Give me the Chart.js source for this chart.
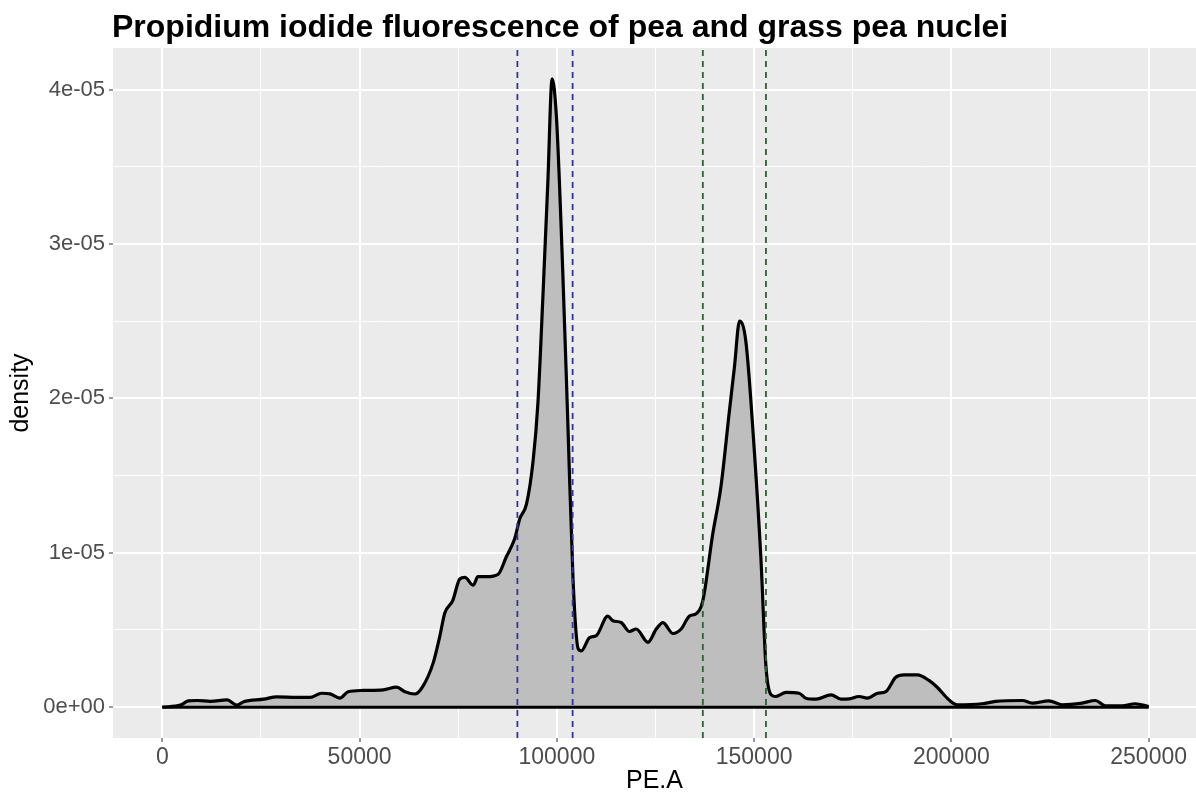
<!DOCTYPE html>
<html>
<head>
<meta charset="utf-8">
<title>Propidium iodide fluorescence of pea and grass pea nuclei</title>
<script src="https://cdn.jsdelivr.net/npm/chart.js@4/dist/chart.umd.min.js"></script>
<style>
  html, body { margin: 0; padding: 0; background: #fff; overflow: hidden; }
  canvas { display: block; }
</style>
</head>
<body>
<canvas id="density-chart" width="1196" height="798"></canvas>
<script>
// ============================================================
// DATA
// density values are in units of 1e-6
// ============================================================
const peaX = [
  0, 4600, 6600, 8800, 12200, 16400, 18900, 20600, 25700, 29000,
  34100, 37400, 40400, 42500, 45000, 47100, 50900, 56000, 59400, 61500,
  64000, 66000, 68700, 70300, 71600, 73600, 75400, 76700, 78800, 80000,
  82200, 85100, 87200, 89300, 90600, 92300, 94000, 95200, 96500, 97700,
  98800, 99900, 101500, 102800, 104100, 105400, 106200, 108300, 110000, 112900,
  114200, 116300, 118400, 120100, 123100, 125200, 126900, 129400, 131500, 133600,
  135300, 137000, 139500, 141600, 143700, 145000, 146300, 147900, 150000, 151700,
  153000, 154300, 155500, 158100, 161400, 163100, 165700, 169500, 172000, 174100,
  176600, 178700, 181300, 183400, 185900, 188000, 191400, 194300, 196400, 199400,
  201500, 207800, 211200, 218000, 220500, 224700, 228100, 233100, 236500, 239000,
  243300, 246600, 250000
];
const peaDensity = [
  0, 0.13, 0.40, 0.43, 0.37, 0.47, 0.13, 0.35, 0.52, 0.67,
  0.63, 0.63, 0.90, 0.86, 0.58, 1.00, 1.08, 1.12, 1.29, 1.00,
  0.85, 1.33, 2.90, 4.55, 6.10, 6.90, 8.30, 8.40, 7.90, 8.45,
  8.45, 8.60, 9.74, 10.9, 12.2, 13.15, 16.0, 19.7, 26.8, 33.9,
  40.7, 38.2, 28.2, 18.3, 8.3, 3.78, 3.64, 4.50, 4.63, 5.90,
  5.60, 5.48, 4.90, 5.06, 4.20, 5.06, 5.48, 4.77, 5.06, 5.90,
  6.05, 6.90, 11.2, 14.3, 19.1, 22.0, 25.0, 23.7, 16.8, 9.74,
  2.64, 0.80, 0.69, 0.95, 0.90, 0.58, 0.52, 0.80, 0.52, 0.54,
  0.69, 0.58, 0.90, 1.01, 1.94, 2.09, 2.09, 1.73, 1.29, 0.47,
  0.15, 0.22, 0.37, 0.43, 0.26, 0.41, 0.15, 0.26, 0.43, 0.09,
  0.09, 0.22, 0.04
];

// dashed reference lines (PE.A positions)
const blueLines = [90000, 104000];
const greenLines = [137000, 153000];

// grid breaks (major + minor) and tick labels
const xBreaks = [0, 25000, 50000, 75000, 100000, 125000, 150000, 175000, 200000, 225000, 250000];
const xTickLabels = ['0', '50000', '100000', '150000', '200000', '250000'];
const yBreaks = [0, 5, 10, 15, 20, 25, 30, 35, 40];
const yTickLabels = ['0e+00', '1e-05', '2e-05', '3e-05', '4e-05'];

// axis limits (ggplot-style 5% expansion)
const X_MIN = -12500;
const X_MAX = 262000;
const Y_MIN = -2.0;
const Y_MAX = 42.7;

const FONT = "'Liberation Sans', Arial, sans-serif";

// ============================================================
// Plugins
// ============================================================
const panelBackground = {
  id: 'panelBackground',
  beforeDraw(chart) {
    const { ctx, chartArea: a } = chart;
    ctx.save();
    ctx.fillStyle = '#EBEBEB';
    ctx.fillRect(a.left, a.top, a.right - a.left, a.bottom - a.top);
    ctx.restore();
  }
};

const plotTitle = {
  id: 'plotTitle',
  afterDraw(chart) {
    const { ctx, chartArea: a } = chart;
    ctx.save();
    ctx.fillStyle = '#000';
    ctx.font = 'bold 32px ' + FONT;
    ctx.textAlign = 'left';
    ctx.textBaseline = 'alphabetic';
    ctx.fillText('Propidium iodide fluorescence of pea and grass pea nuclei', a.left - 1, 37);
    ctx.restore();
  }
};

// ============================================================
// Datasets
// ============================================================
function vline(x, color) {
  return {
    data: [{ x: x, y: Y_MIN }, { x: x, y: Y_MAX }],
    borderColor: color,
    borderWidth: 1.8,
    borderDash: [6, 5],
    pointRadius: 0,
    fill: false,
    order: 0,
  };
}

const datasets = [];
blueLines.forEach(x => datasets.push(vline(x, '#33339f')));
greenLines.forEach(x => datasets.push(vline(x, '#2b6331')));

// bottom edge of the density polygon
datasets.push({
  data: [{ x: peaX[0], y: 0 }, { x: peaX[peaX.length - 1], y: 0 }],
  borderColor: '#000',
  borderWidth: 3,
  pointRadius: 0,
  fill: false,
  order: 1,
});

datasets.push({
  label: 'density',
  data: peaX.map((x, i) => ({ x: x, y: peaDensity[i] })),
  borderColor: '#000',
  backgroundColor: '#BEBEBE',
  borderWidth: 3.2,
  pointRadius: 0,
  cubicInterpolationMode: 'monotone',
  fill: 'origin',
  order: 2,
});

// ============================================================
// Chart
// ============================================================
const isMajorX = v => v % 50000 === 0;
const isMajorY = v => v % 10 === 0;

new Chart(document.getElementById('density-chart').getContext('2d'), {
  type: 'line',
  data: { datasets },
  options: {
    responsive: false,
    animation: false,
    devicePixelRatio: 1,
    layout: { padding: { top: 48, left: 0, right: 0, bottom: 0 } },
    plugins: {
      legend: { display: false },
      tooltip: { enabled: false },
    },
    scales: {
      x: {
        type: 'linear',
        min: X_MIN,
        max: X_MAX,
        afterBuildTicks: scale => { scale.ticks = xBreaks.map(v => ({ value: v })); },
        afterFit: scale => { scale.height = 60; },
        border: { display: false },
        grid: {
          color: '#FFFFFF',
          lineWidth: ctx => isMajorX(ctx.tick.value) ? 2 : 1,
          tickColor: ctx => isMajorX(ctx.tick.value) ? '#333333' : 'rgba(0,0,0,0)',
          tickWidth: 1,
          tickLength: 4,
        },
        ticks: {
          autoSkip: false,
          maxRotation: 0,
          padding: 2,
          color: '#4D4D4D',
          font: { family: FONT, size: 23 },
          callback: v => isMajorX(v) ? xTickLabels[v / 50000] : '',
        },
        title: {
          display: true,
          text: 'PE.A',
          color: '#000',
          font: { family: FONT, size: 25 },
          padding: { top: 0, bottom: 2 },
        },
      },
      y: {
        type: 'linear',
        min: Y_MIN,
        max: Y_MAX,
        afterBuildTicks: scale => { scale.ticks = yBreaks.map(v => ({ value: v })); },
        afterFit: scale => { scale.width = 113; },
        border: { display: false },
        grid: {
          color: '#FFFFFF',
          lineWidth: ctx => isMajorY(ctx.tick.value) ? 2 : 1,
          tickColor: ctx => isMajorY(ctx.tick.value) ? '#333333' : 'rgba(0,0,0,0)',
          tickWidth: 1,
          tickLength: 4,
        },
        ticks: {
          autoSkip: false,
          padding: 4,
          color: '#4D4D4D',
          font: { family: FONT, size: 22 },
          callback: v => isMajorY(v) ? yTickLabels[v / 10] : '',
        },
        title: {
          display: true,
          text: 'density',
          color: '#000',
          font: { family: FONT, size: 25 },
          padding: { top: 6, bottom: 0 },
        },
      },
    },
  },
  plugins: [panelBackground, plotTitle],
});
</script>
</body>
</html>
